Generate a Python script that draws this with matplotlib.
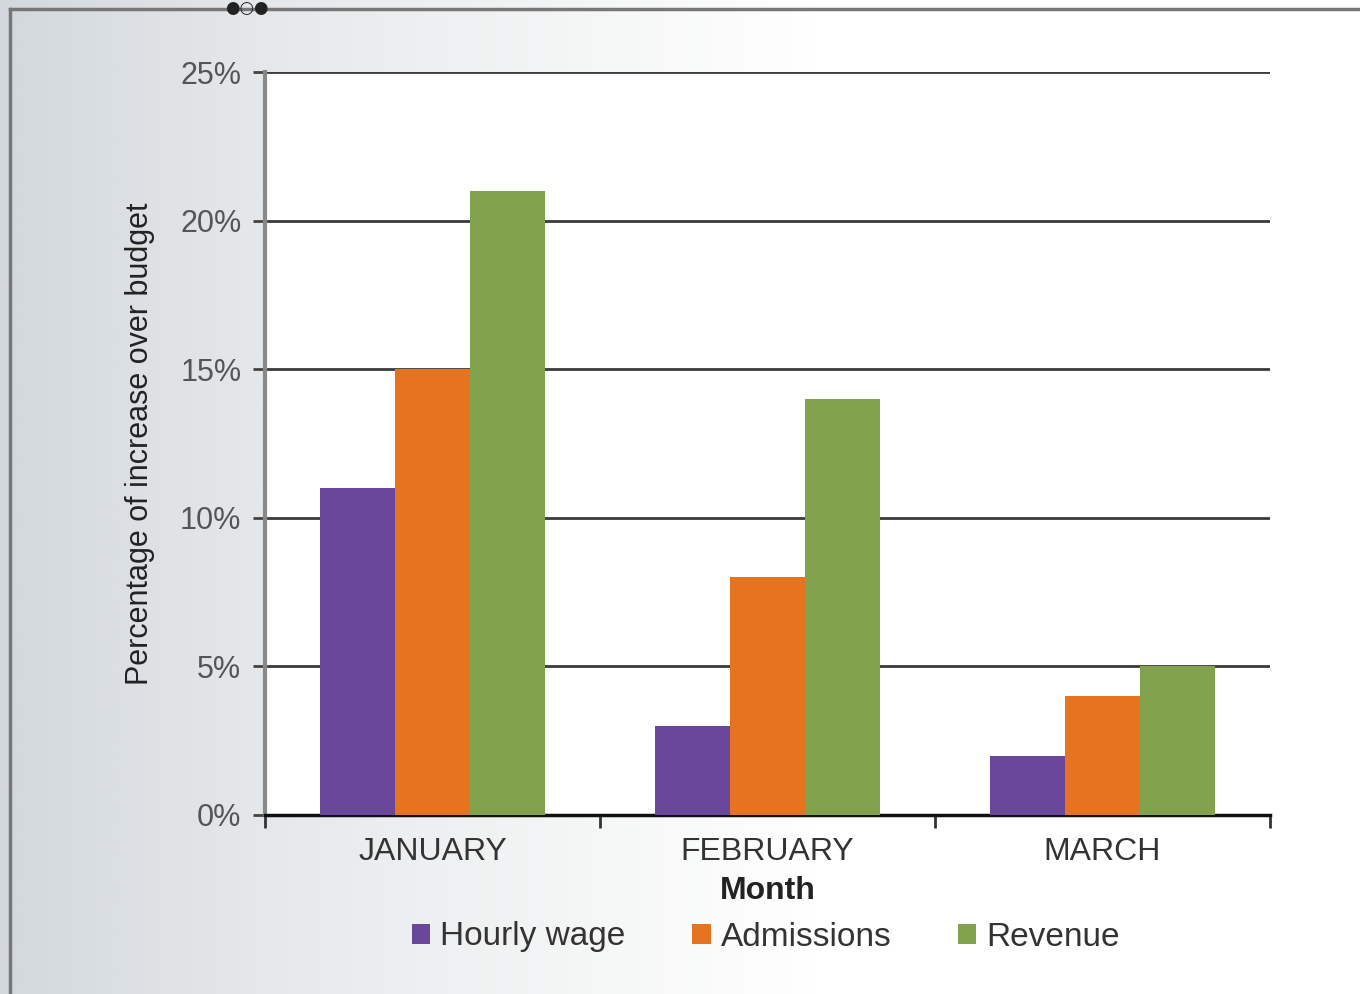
import numpy as np
import matplotlib
matplotlib.use("Agg")
import matplotlib.pyplot as plt
from matplotlib.colors import LinearSegmentedColormap

months = ["JANUARY", "FEBRUARY", "MARCH"]
series_names = ["Hourly wage", "Admissions", "Revenue"]
hourly_wage = [11, 3, 2]
admissions = [15, 8, 4]
revenue = [21, 14, 5]
yticks = [0, 5, 10, 15, 20, 25]
ytick_labels = ["0%", "5%", "10%", "15%", "20%", "25%"]
colors = ["#6B479C", "#E5731F", "#82A24E"]

plt.rcParams['font.family'] = ['Liberation Sans', 'DejaVu Sans']

fig = plt.figure(figsize=(13.6, 9.94), dpi=100)

# background gradient
bg = fig.add_axes([0, 0, 1, 1], zorder=-10)
grad = np.linspace(0, 1, 512)[None, :]
cmap = LinearSegmentedColormap.from_list(
    "g", [(0, "#d3d8dd"), (0.2, "#e6e9eb"), (0.45, "#f6f7f7"), (0.6, "#ffffff"), (1, "#ffffff")])
bg.imshow(grad, aspect="auto", cmap=cmap, extent=[0, 1, 0, 1])
bg.plot([10/1360, 1], [1-9/994, 1-9/994], color="#777777", lw=2.5)
bg.plot([10/1360, 10/1360], [1-9/994, 0.0], color="#777777", lw=2.5)
bg.set_xlim(0, 1); bg.set_ylim(0, 1)
bg.axis("off")
fig.text(247/1360, 1-8/994, "●○●", family="DejaVu Sans", fontsize=12, color="#222222",
         ha="center", va="center")

ax = fig.add_axes([265/1360, 1-815/994, (1270-265)/1360, (815-72)/994])
ax.set_facecolor("white")
x = np.arange(len(months))
w = 0.224
for i, (vals, name) in enumerate(zip([hourly_wage, admissions, revenue], series_names)):
    ax.bar(x + (i-1)*w, vals, width=w, color=colors[i], label=name, zorder=3)

ax.set_xlim(-0.5, 2.5)
ax.set_ylim(0, 25)
ax.set_yticks(yticks)
ax.set_yticklabels(ytick_labels)
ax.yaxis.grid(True, color="#3a3a3a", lw=2)
ax.set_axisbelow(True)
for s in ["top", "right"]:
    ax.spines[s].set_visible(False)
ax.spines["left"].set_color("#888888")
ax.spines["left"].set_linewidth(3)
ax.spines["bottom"].set_color("#111111")
ax.spines["bottom"].set_linewidth(2.5)

ax.set_xticks(x)
ax.set_xticklabels(months)
ax.set_xticks([-0.5, 0.5, 1.5, 2.5], minor=True)
ax.tick_params(axis="x", which="major", length=0, pad=16, labelsize=23, labelcolor="#333333")
ax.tick_params(axis="x", which="minor", length=9, width=2, color="#333333", direction="out")
ax.tick_params(axis="y", length=9, width=2, color="#444444", pad=8, labelsize=22, labelcolor="#555555")

ax.set_xlabel("Month", fontsize=23, fontweight="bold", color="#222222", labelpad=6)
ax.set_ylabel("Percentage of increase over budget", fontsize=22, color="#222222", labelpad=18)

handles, labels = ax.get_legend_handles_labels()
leg = fig.legend(handles, labels, loc="center", bbox_to_anchor=(766/1360, 1-937/994), ncol=3,
                 frameon=False, fontsize=24, handlelength=0.55, handleheight=0.55,
                 handletextpad=0.3, columnspacing=2.0, labelcolor="#333333")

fig.savefig("out.png", dpi=100)
